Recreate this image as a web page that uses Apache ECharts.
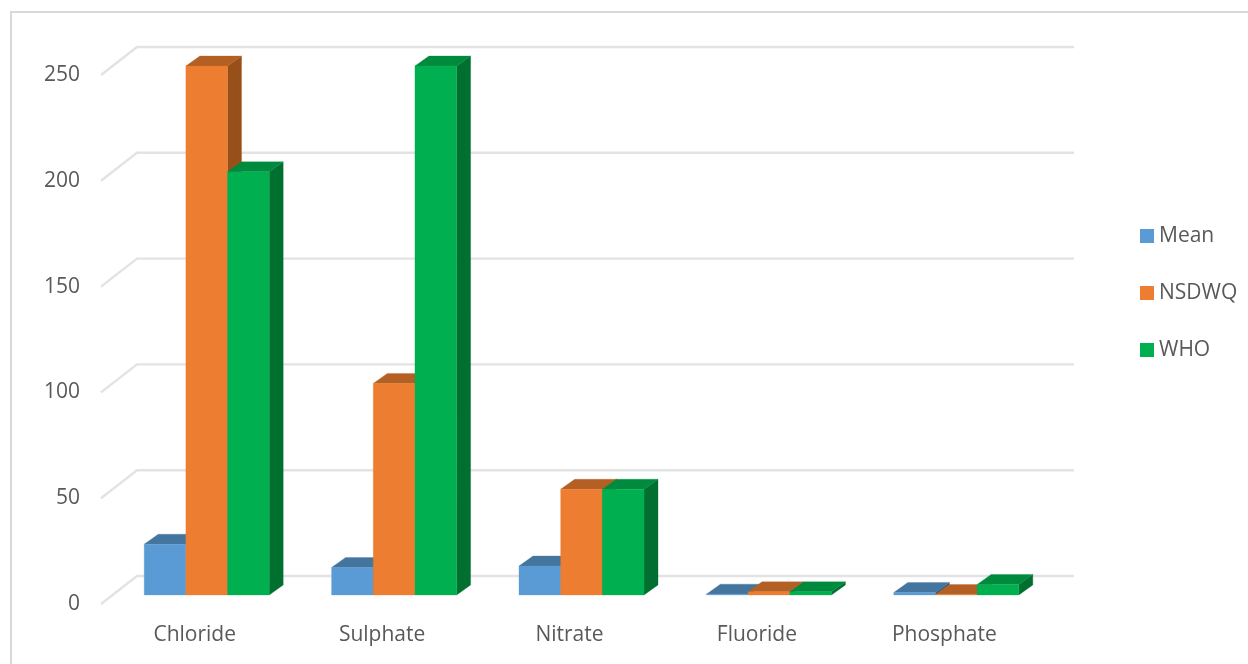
<!DOCTYPE html>
<html>
<head>
<meta charset="utf-8">
<style>html,body{margin:0;padding:0;background:#fff}#chart{width:1248px;height:664px}</style>
<script src="https://cdn.jsdelivr.net/npm/echarts@6/dist/echarts.min.js"></script>
</head>
<body>
<div id="chart"></div>
<script>
// Water-quality parameters: measured mean against NSDWQ and WHO limits (mg/L)
const categories = ['Chloride', 'Sulphate', 'Nitrate', 'Fluoride', 'Phosphate'];
const meanValues = [24, 13, 13.7, 0.4, 1.2];
const nsdwqValues = [250, 100, 50, 1.5, 0.2];
const whoValues = [200, 250, 50, 1.5, 5];
const yTicks = [0, 50, 100, 150, 200, 250];

const seriesNames = ['Mean', 'NSDWQ', 'WHO'];
const faceColors = ['#5B9BD5', '#ED7D31', '#00B050'];
const topColors = ['#44759F', '#B45F23', '#008A3D'];
const sideColors = ['#355C80', '#98501A', '#006F30'];

// Oblique projection: wall depth and the shift of the bars into the room
const WALL_DX = 36, WALL_DY = -28;
const BAR_SHIFT_X = 12, BAR_SHIFT_Y = -9;
const BAR_DX = 14, BAR_DY = -10;
const BAR_BAND_RATIO = 0.2224;

const font = '"Open Sans", sans-serif';
const textColor = '#595959';
const textSize = 21;

// Back-wall gridline with its slanted stub on the side wall
function renderWallLine(params, api) {
  const cs = params.coordSys;
  const y = api.coord([0, api.value(0)])[1];
  const style = { stroke: '#E3E3E3', lineWidth: 2.4, fill: 'none' };
  return {
    type: 'polyline',
    shape: { points: [
      [cs.x, y],
      [cs.x + WALL_DX, y + WALL_DY],
      [cs.x + cs.width + WALL_DX, y + WALL_DY]
    ] },
    style
  };
}

// One 3D column: top and side parallelograms plus the front rectangle
function makeBarRenderer(seriesIndex) {
  return function (params, api) {
    const value = api.value(1);
    const base = api.coord([api.value(0), 0]);
    const head = api.coord([api.value(0), value]);
    const band = api.size([1, 0])[0];
    const w = band * BAR_BAND_RATIO;
    const x0 = base[0] + BAR_SHIFT_X + (seriesIndex - 1.5) * w;
    const x1 = x0 + w;
    const yb = base[1] + BAR_SHIFT_Y;
    const yt = head[1] + BAR_SHIFT_Y;
    const poly = (points, fill) => ({
      type: 'polygon',
      shape: { points },
      style: { fill, stroke: fill, lineWidth: 0.3 }
    });
    return {
      type: 'group',
      children: [
        poly([[x1, yb], [x1 + BAR_DX, yb + BAR_DY], [x1 + BAR_DX, yt + BAR_DY], [x1, yt]], sideColors[seriesIndex]),
        poly([[x0, yt], [x0 + BAR_DX, yt + BAR_DY], [x1 + BAR_DX, yt + BAR_DY], [x1, yt]], topColors[seriesIndex]),
        poly([[x0, yb], [x1, yb], [x1, yt], [x0, yt]], faceColors[seriesIndex])
      ]
    };
  };
}

const seriesValues = [meanValues, nsdwqValues, whoValues];

// Columns are painted category by category so nearer faces cover earlier ones
const barSeries = seriesNames.map((name, i) => ({
  name,
  type: 'custom',
  renderItem: makeBarRenderer(i),
  encode: { x: 0, y: 1 },
  clip: false,
  silent: true,
  z: 3,
  itemStyle: { color: faceColors[i] },
  data: categories.map((c, k) => [k, seriesValues[i][k]])
}));

const chart = echarts.init(document.getElementById('chart'));
chart.setOption({
  animation: false,
  backgroundColor: '#FFFFFF',
  textStyle: { fontFamily: font },
  graphic: [{
    type: 'rect',
    silent: true,
    shape: { x: 11, y: 12, width: 1300, height: 800 },
    style: { fill: 'none', stroke: '#D9D9D9', lineWidth: 2 }
  }],
  grid: { left: 101, right: 210, top: 75, bottom: 60 },
  legend: {
    data: seriesNames,
    orient: 'vertical',
    left: 1140,
    top: 225,
    padding: 0,
    icon: 'rect',
    itemWidth: 14,
    itemHeight: 14,
    itemGap: 35,
    textStyle: { color: textColor, fontSize: textSize, fontFamily: font, lineHeight: 22 },
    selectedMode: false
  },
  xAxis: {
    type: 'category',
    data: categories,
    axisLine: { show: false },
    axisTick: { show: false },
    splitLine: { show: false },
    axisLabel: { color: textColor, fontSize: textSize, fontFamily: font, margin: 21 }
  },
  yAxis: {
    type: 'value',
    min: 0,
    max: 250,
    interval: 50,
    axisLine: { show: false },
    axisTick: { show: false },
    splitLine: { show: false },
    axisLabel: { color: textColor, fontSize: textSize, fontFamily: font, margin: 21, padding: [2, 0, 0, 0] }
  },
  series: [{
    type: 'custom',
    renderItem: renderWallLine,
    encode: { y: 0 },
    clip: false,
    silent: true,
    z: 1,
    data: yTicks.map(v => [v])
  }].concat(barSeries)
});
</script>
</body>
</html>
